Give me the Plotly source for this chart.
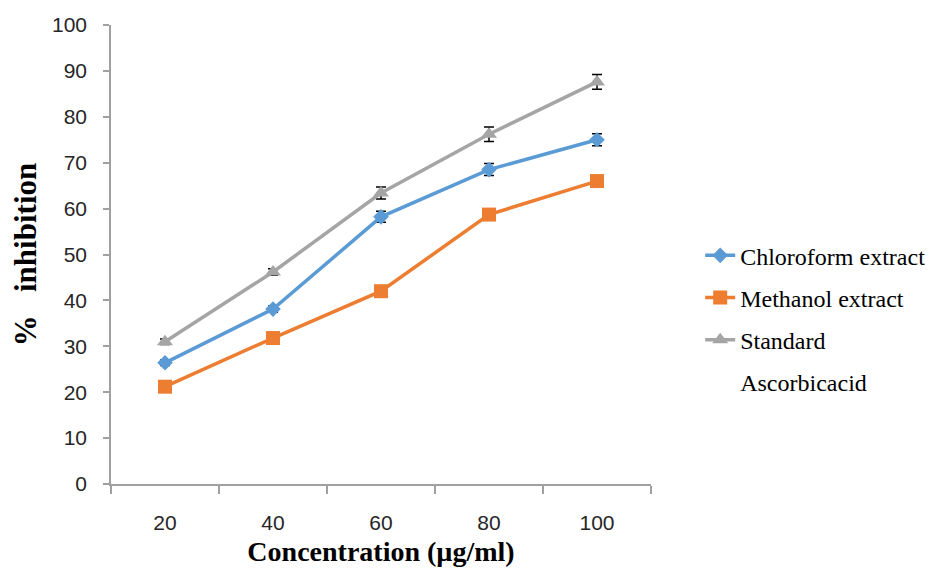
import plotly.graph_objects as go

concentrations = ["20", "40", "60", "80", "100"]
chloroform = [26.4, 38.1, 58.2, 68.5, 75.0]
chloroform_err = [0.6, 0.7, 1.2, 1.3, 1.3]
methanol = [21.2, 31.8, 42.0, 58.7, 66.0]
methanol_err = [0.5, 0.5, 0.6, 0.6, 0.6]
standard = [31.0, 46.2, 63.4, 76.2, 87.6]
standard_err = [0.6, 0.7, 1.3, 1.6, 1.6]

series_names = ["Chloroform extract", "Methanol extract", "Standard", "Ascorbicacid"]
colors = ["#5B9BD5", "#ED7D31", "#A5A5A5"]
symbols = ["diamond", "square", "triangle-up"]
sizes = [12, 14, 14]

fig = go.Figure()
for i, (vals, errs) in enumerate([(chloroform, chloroform_err), (methanol, methanol_err), (standard, standard_err)]):
    fig.add_trace(go.Scatter(
        x=concentrations, y=vals, name=series_names[i], mode="lines+markers",
        legendgroup=f"g{i}",
        line=dict(color=colors[i], width=3.5),
        marker=dict(symbol=symbols[i], size=sizes[i], color=colors[i]),
        error_y=dict(type="data", array=errs, visible=True, color="black", thickness=1.5, width=5),
    ))
# second line of the "Standard Ascorbicacid" legend label
fig.add_trace(go.Scatter(
    x=[None], y=[None], name=series_names[3], mode="lines", legendgroup="g3",
    line=dict(color="rgba(0,0,0,0)", width=0), hoverinfo="skip",
))

serif = "Liberation Serif, Times New Roman, serif"
sans = "Liberation Sans, Arial, sans-serif"

fig.update_layout(
    width=931, height=561,
    paper_bgcolor="white", plot_bgcolor="white",
    margin=dict(l=103, r=288, t=17, b=85),
    showlegend=True,
    legend=dict(
        xref="container", x=0.7435, y=0.36, xanchor="left", yanchor="middle",
        font=dict(family=serif, size=24, color="black"),
        traceorder="grouped", tracegroupgap=8,
        bgcolor="rgba(0,0,0,0)",
    ),
    xaxis=dict(
        type="category", range=[-0.5, 4.5], tickson="boundaries",
        ticks="outside", ticklen=8, tickwidth=1.5, tickcolor="#a0a0a0",
        showline=True, linecolor="#a0a0a0", linewidth=1.5,
        showgrid=False, zeroline=False, automargin=False,
        tickfont=dict(family=sans, size=21, color="#262626"),
        ticklabelstandoff=19,
        title=dict(text="<b>Concentration (µg/ml)</b>", font=dict(family=serif, size=28, color="black"), standoff=8),
    ),
    yaxis=dict(
        range=[0, 100], dtick=10, tick0=0,
        ticks="outside", ticklen=6, tickwidth=1.5, tickcolor="#a0a0a0",
        showline=True, linecolor="#a0a0a0", linewidth=1.5,
        showgrid=False, zeroline=False, automargin=False,
        tickfont=dict(family=sans, size=21, color="#262626"),
        ticklabelstandoff=12,
        title=dict(text="<b>%\u00a0\u00a0\u00a0inhibition</b>", font=dict(family=serif, size=31, color="black"), standoff=14),
    ),
)

fig.write_html("out.html")
